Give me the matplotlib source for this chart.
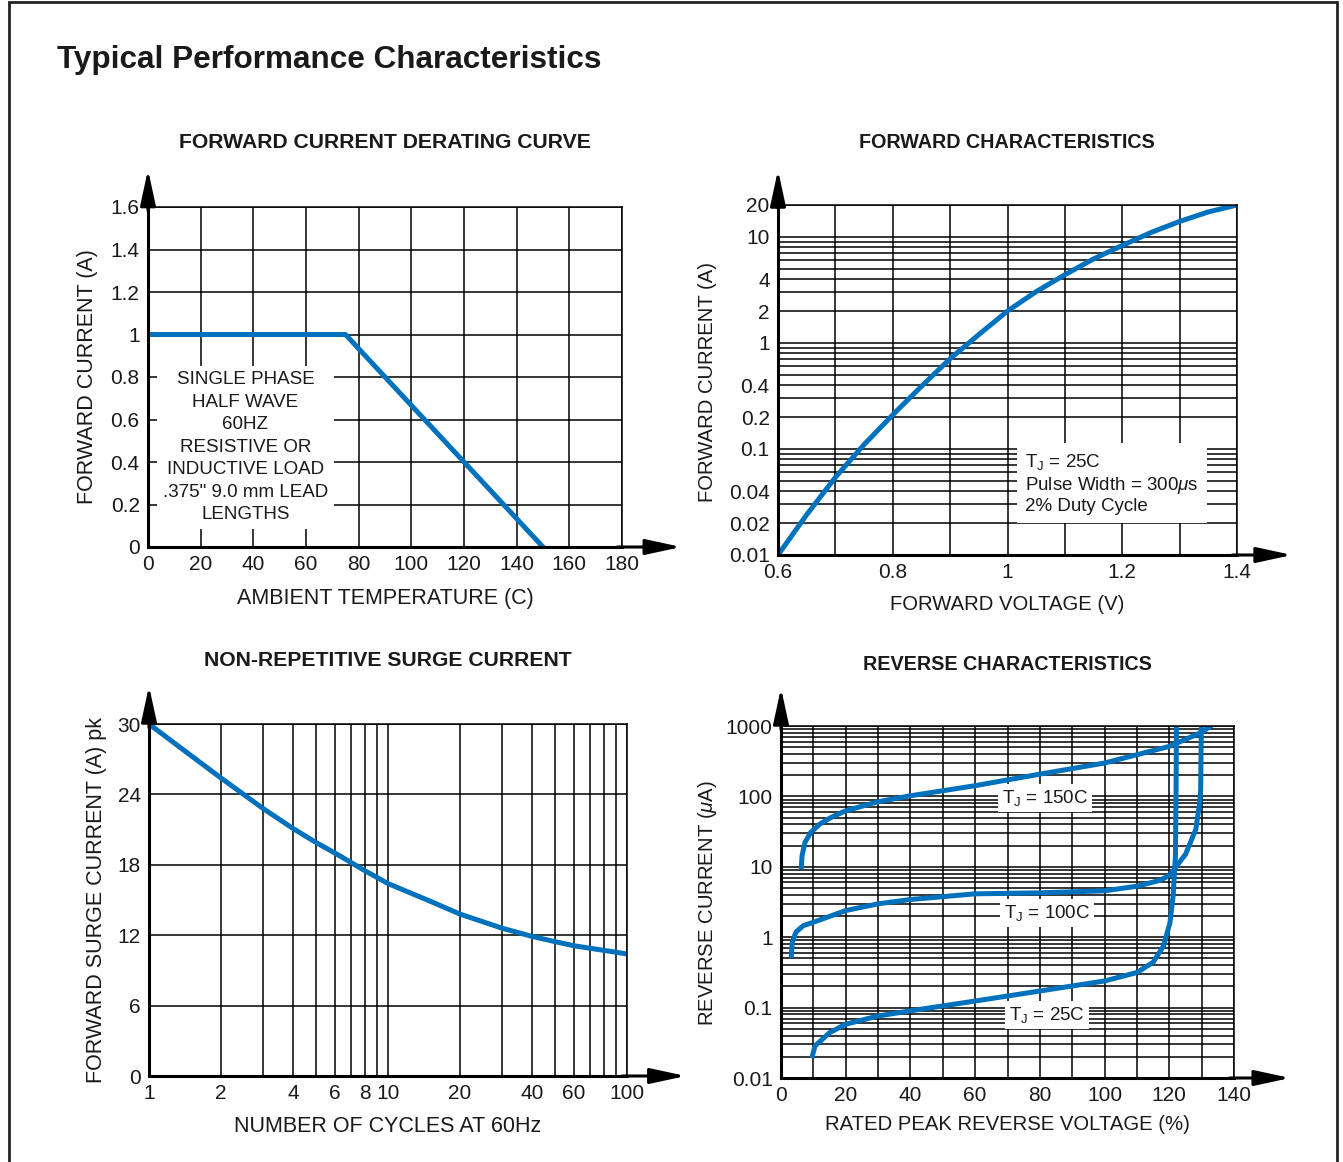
import matplotlib
matplotlib.use('Agg')
import matplotlib.pyplot as plt
import numpy as np
from matplotlib.ticker import LogLocator, MultipleLocator, NullFormatter

plt.rcParams['font.family'] = ['Liberation Sans', 'DejaVu Sans']
plt.rcParams['mathtext.fontset'] = 'custom'
plt.rcParams['mathtext.rm'] = 'Liberation Sans'
plt.rcParams['mathtext.it'] = 'Liberation Sans:italic'
plt.rcParams['mathtext.bf'] = 'Liberation Sans:bold'

# ---- data ----
# forward current derating curve
derate_temp = [0, 75, 150]
derate_current = [1.0, 1.0, 0.0]
derate_xticks = [0, 20, 40, 60, 80, 100, 120, 140, 160, 180]
derate_yticks = [0, 0.2, 0.4, 0.6, 0.8, 1.0, 1.2, 1.4, 1.6]
derate_ylabels = ['0', '0.2', '0.4', '0.6', '0.8', '1', '1.2', '1.4', '1.6']

# forward characteristics
fwd_voltage = [0.6, 0.65, 0.7, 0.75, 0.8, 0.85, 0.9, 0.95, 1.0, 1.05,
               1.1, 1.15, 1.2, 1.25, 1.3, 1.35, 1.4]
fwd_current = [0.01, 0.024, 0.054, 0.11, 0.21, 0.39, 0.71, 1.2, 2.0, 3.05,
               4.4, 6.2, 8.3, 11.0, 14.0, 17.2, 20]
fwd_xticks = [0.6, 0.8, 1.0, 1.2, 1.4]
fwd_xlabels = ['0.6', '0.8', '1', '1.2', '1.4']
fwd_yticks = [0.01, 0.02, 0.04, 0.1, 0.2, 0.4, 1, 2, 4, 10, 20]
fwd_ylabels = ['0.01', '0.02', '0.04', '0.1', '0.2', '0.4', '1', '2', '4', '10', '20']

# non-repetitive surge current
cycles = [1, 1.5, 2, 3, 4, 5, 6, 7, 8, 10, 15, 20, 30, 40, 50, 60, 100]
surge = [30, 27.3, 25.4, 22.8, 21.1, 19.9, 19.0, 18.2, 17.5, 16.4, 14.9,
         13.8, 12.6, 11.9, 11.45, 11.1, 10.4]
surge_xticks = [1, 2, 4, 6, 8, 10, 20, 40, 60, 100]
surge_xlabels = ['1', '2', '4', '6', '8', '10', '20', '40', '60', '100']
surge_yticks = [0, 6, 12, 18, 24, 30]

# reverse characteristics
rev_v_150 = [6.3, 6.5, 7.4, 9.2, 12, 15.5, 20, 30, 40, 60, 80, 100, 120, 130, 132.8]
rev_i_150 = [10, 14.3, 22.2, 30.8, 40.5, 50.3, 62.5, 84, 102, 142, 207, 298, 513, 813, 1000]
rev_v_100 = [3.2, 3.5, 4.6, 6.9, 10, 20, 30, 40, 60, 80, 100, 110, 117, 120,
             125, 128.2, 129.4, 129.7, 129.9]
rev_i_100 = [0.55, 0.85, 1.18, 1.46, 1.63, 2.39, 2.98, 3.43, 4.13, 4.27, 4.56, 5.3, 6.4, 7.5,
             15, 34, 81, 125, 1000]
rev_v_25 = [9.7, 10.5, 15, 20, 30, 40, 60, 80, 100, 110, 115, 118.2, 120.2,
            121.2, 121.9, 122.1, 122.2]
rev_i_25 = [0.0206, 0.0285, 0.044, 0.058, 0.076, 0.090, 0.124, 0.172, 0.239, 0.315, 0.44,
            0.75, 1.6, 3.9, 14.4, 127, 1000]
rev_xticks = [0, 20, 40, 60, 80, 100, 120, 140]
rev_yticks = [0.01, 0.1, 1, 10, 100, 1000]
rev_ylabels = ['0.01', '0.1', '1', '10', '100', '1000']

W, H = 1343, 1162
BLUE = '#0071BC'
INK = '#1a1a1a'
GRID_LW = 1.1
CURVE_LW = 3.6
TICK_FS = 15
LABEL_FS = 15.5
LABEL_FS_R = 14.6
SUB_FS = 15.2
SUB_FS_R = 14.2
NOTE_FS = 13.5

fig = plt.figure(figsize=(W / 100, H / 100), dpi=100)


def box(l, r, b, t):
    return [l / W, 1 - b / H, (r - l) / W, (b - t) / H]


def ftext(x, y, s, **kw):
    kw.setdefault('ha', 'center')
    kw.setdefault('va', 'center')
    kw.setdefault('color', INK)
    fig.text(x / W, 1 - y / H, s, **kw)


def style(ax, up=1.11, right=1.125):
    ax.set_axisbelow(True)
    for side in ['top', 'right']:
        ax.spines[side].set_linewidth(GRID_LW)
    for side in ['left', 'bottom']:
        ax.spines[side].set_linewidth(2.2)
    ax.tick_params(which='both', length=0, labelsize=TICK_FS, pad=6, labelcolor=INK)
    ax.grid(True, which='both', color='black', lw=GRID_LW)
    arrow = dict(arrowstyle='-|>,head_length=1.2,head_width=0.26', color='black',
                 lw=2.2, shrinkA=0, shrinkB=0, mutation_scale=18)
    ax.annotate('', xy=(0, up), xytext=(0, 0.99), xycoords='axes fraction',
                arrowprops=arrow, annotation_clip=False)
    ax.annotate('', xy=(right, 0), xytext=(0.99, 0), xycoords='axes fraction',
                arrowprops=arrow, annotation_clip=False)


# outer frame
fig.add_artist(plt.Rectangle((9 / W, -0.05), (1337 - 9) / W, 1.05 - 2 / H,
                             transform=fig.transFigure, fill=False, lw=2, ec='#222222'))

ftext(57, 60, 'Typical Performance Characteristics', ha='left', fontsize=22.7,
      fontweight='bold')

# ---- forward current derating curve ----
ax1 = fig.add_axes(box(148, 622, 547, 207))
ax1.plot(derate_temp, derate_current, color=BLUE, lw=CURVE_LW)
ax1.set_xlim(0, 180)
ax1.set_ylim(0, 1.6)
ax1.set_xticks(derate_xticks)
ax1.set_yticks(derate_yticks)
ax1.set_yticklabels(derate_ylabels)
style(ax1)
ax1.text(37, 0.47, 'SINGLE PHASE\nHALF WAVE\n60HZ\nRESISTIVE OR\nINDUCTIVE LOAD\n'
         '.375" 9.0 mm LEAD\nLENGTHS', ha='center', va='center', fontsize=NOTE_FS,
         linespacing=1.42, color=INK,
         bbox=dict(boxstyle='square,pad=0.3', fc='white', ec='none'))
ftext(385, 142, 'FORWARD CURRENT DERATING CURVE', fontsize=SUB_FS, fontweight='bold')
ftext(385, 598, 'AMBIENT TEMPERATURE (C)', fontsize=LABEL_FS)
ftext(88, 377, 'FORWARD CURRENT (A)', fontsize=LABEL_FS, rotation=90)

# ---- forward characteristics ----
ax2 = fig.add_axes(box(778, 1237, 555, 205))
ax2.set_yscale('log')
ax2.plot(fwd_voltage, fwd_current, color=BLUE, lw=CURVE_LW)
ax2.set_xlim(0.6, 1.4)
ax2.set_ylim(0.01, 20)
ax2.set_xticks(fwd_xticks)
ax2.set_xticklabels(fwd_xlabels)
ax2.xaxis.set_minor_locator(MultipleLocator(0.1))
ax2.set_yticks(fwd_yticks)
ax2.set_yticklabels(fwd_ylabels)
ax2.yaxis.set_minor_locator(LogLocator(base=10, subs=np.arange(2, 10), numticks=50))
ax2.yaxis.set_minor_formatter(NullFormatter())
style(ax2, up=1.10, right=1.12)
ax2.text(1.0305, 0.047, 'T$_\\mathrm{J}$ = 25C\nPulse Width = 300$\\mu$s\n2% Duty Cycle',
         ha='left', va='center', fontsize=NOTE_FS, linespacing=1.16, color=INK,
         bbox=dict(boxstyle='square,pad=0.45', fc='white', ec='none'))
ftext(1007, 142, 'FORWARD CHARACTERISTICS', fontsize=SUB_FS_R, fontweight='bold')
ftext(1007, 605, 'FORWARD VOLTAGE (V)', fontsize=LABEL_FS_R)
ftext(708, 382, 'FORWARD CURRENT (A)', fontsize=LABEL_FS_R, rotation=90)

# ---- non-repetitive surge current ----
ax3 = fig.add_axes(box(149, 627, 1076, 724))
ax3.set_xscale('log')
ax3.plot(cycles, surge, color=BLUE, lw=CURVE_LW)
ax3.set_xlim(1, 100)
ax3.set_ylim(0, 30)
ax3.set_xticks(surge_xticks)
ax3.set_xticklabels(surge_xlabels)
ax3.xaxis.set_minor_locator(LogLocator(base=10, subs=np.arange(2, 10), numticks=50))
ax3.xaxis.set_minor_formatter(NullFormatter())
ax3.set_yticks(surge_yticks)
style(ax3, up=1.108, right=1.123)
ftext(388, 660, 'NON-REPETITIVE SURGE CURRENT', fontsize=SUB_FS, fontweight='bold')
ftext(388, 1126, 'NUMBER OF CYCLES AT 60Hz', fontsize=LABEL_FS)
ftext(97, 900, 'FORWARD SURGE CURRENT (A) pk', fontsize=LABEL_FS, rotation=90)

# ---- reverse characteristics ----
ax4 = fig.add_axes(box(781, 1234, 1078, 726))
ax4.set_yscale('log')
ax4.plot(rev_v_150, rev_i_150, color=BLUE, lw=CURVE_LW)
ax4.plot(rev_v_100, rev_i_100, color=BLUE, lw=CURVE_LW)
ax4.plot(rev_v_25, rev_i_25, color=BLUE, lw=CURVE_LW)
ax4.set_xlim(0, 140)
ax4.set_ylim(0.01, 1000)
ax4.set_xticks(rev_xticks)
ax4.xaxis.set_minor_locator(MultipleLocator(10))
ax4.set_yticks(rev_yticks)
ax4.set_yticklabels(rev_ylabels)
ax4.yaxis.set_minor_locator(LogLocator(base=10, subs=np.arange(2, 10), numticks=50))
ax4.yaxis.set_minor_formatter(NullFormatter())
style(ax4, up=1.108, right=1.124)
for x, y, s in [(81.6, 95, 'T$_\\mathrm{J}$ = 150C'),
                (82.2, 2.2, 'T$_\\mathrm{J}$ = 100C'),
                (82.2, 0.0785, 'T$_\\mathrm{J}$ = 25C')]:
    ax4.text(x, y, s, ha='center', va='center', fontsize=NOTE_FS, color=INK,
             bbox=dict(boxstyle='square,pad=0.2', fc='white', ec='none'))
ftext(1007, 664, 'REVERSE CHARACTERISTICS', fontsize=SUB_FS_R, fontweight='bold')
ftext(1007, 1124, 'RATED PEAK REVERSE VOLTAGE (%)', fontsize=LABEL_FS_R)
ftext(708, 903, 'REVERSE CURRENT ($\\mu$A)', fontsize=LABEL_FS_R, rotation=90)

fig.savefig('out.png', dpi=100)
